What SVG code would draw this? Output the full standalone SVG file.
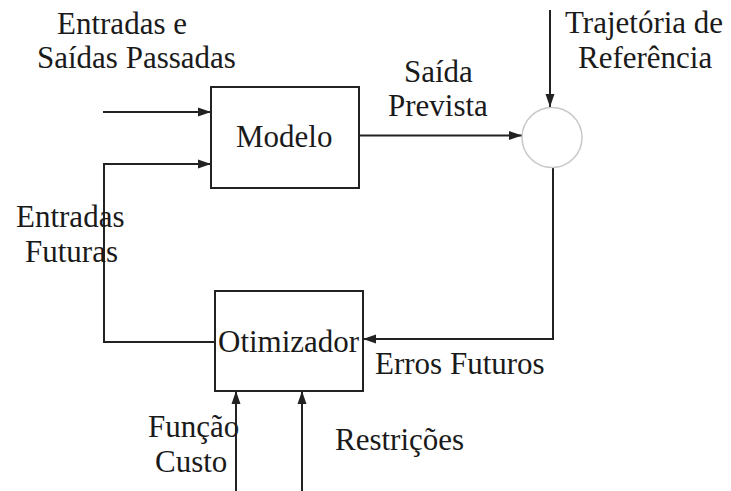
<svg xmlns="http://www.w3.org/2000/svg" width="731" height="491" viewBox="0 0 731 491">
<style>
.box{fill:#fff;stroke:#222;stroke-width:2}
.sum{fill:#fff;stroke:#c8c8c8;stroke-width:1.5}
.ln{fill:none;stroke:#222;stroke-width:2}
.t{font-family:'Liberation Serif','Times New Roman','DejaVu Serif',serif;font-size:31px;fill:#1a1a1a}
</style>
<defs>
<marker id="ah" markerUnits="userSpaceOnUse" markerWidth="14" markerHeight="10" refX="13" refY="5" orient="auto">
<path d="M0,0.5 L13,5 L0,9.5 z" fill="#222"/>
</marker>
</defs>
<rect width="731" height="491" fill="#fff"/>
<g id="connectors">
<path class="ln" d="M103,112 H211" marker-end="url(#ah)"/>
<path class="ln" d="M215,342 H104 V164 H211" marker-end="url(#ah)"/>
<path class="ln" d="M359,135.5 H522" marker-end="url(#ah)"/>
<path class="ln" d="M550,10 V107" marker-end="url(#ah)"/>
<path class="ln" d="M553,168 V339 H363" marker-end="url(#ah)"/>
<path class="ln" d="M236,491 V391" marker-end="url(#ah)"/>
<path class="ln" d="M302,491 V391" marker-end="url(#ah)"/>
</g>
<g id="modelo">
<rect class="box" x="211" y="87" width="148" height="101"/>
<text class="t" x="236" y="147" font-family="Liberation Serif, serif">Modelo</text>
</g>
<g id="otimizador">
<rect class="box" x="215" y="291" width="148" height="100" style="fill:none"/>
<text class="t" x="218" y="352" font-family="Liberation Serif, serif">Otimizador</text>
</g>
<g id="somador">
<circle class="sum" cx="552" cy="137.5" r="30"/>
</g>
<g id="labels" font-family="Liberation Serif, serif">
<text class="t" x="57" y="34">Entradas e</text>
<text class="t" x="37" y="68">Saídas Passadas</text>
<text class="t" x="404" y="82">Saída</text>
<text class="t" x="388" y="116">Prevista</text>
<text class="t" x="565" y="33">Trajetória de</text>
<text class="t" x="578" y="68">Referência</text>
<text class="t" x="16" y="227">Entradas</text>
<text class="t" x="25" y="262">Futuras</text>
<text class="t" x="375" y="374">Erros Futuros</text>
<text class="t" x="148" y="437">Função</text>
<text class="t" x="155" y="472">Custo</text>
<text class="t" x="335" y="450">Restrições</text>
</g>
</svg>
